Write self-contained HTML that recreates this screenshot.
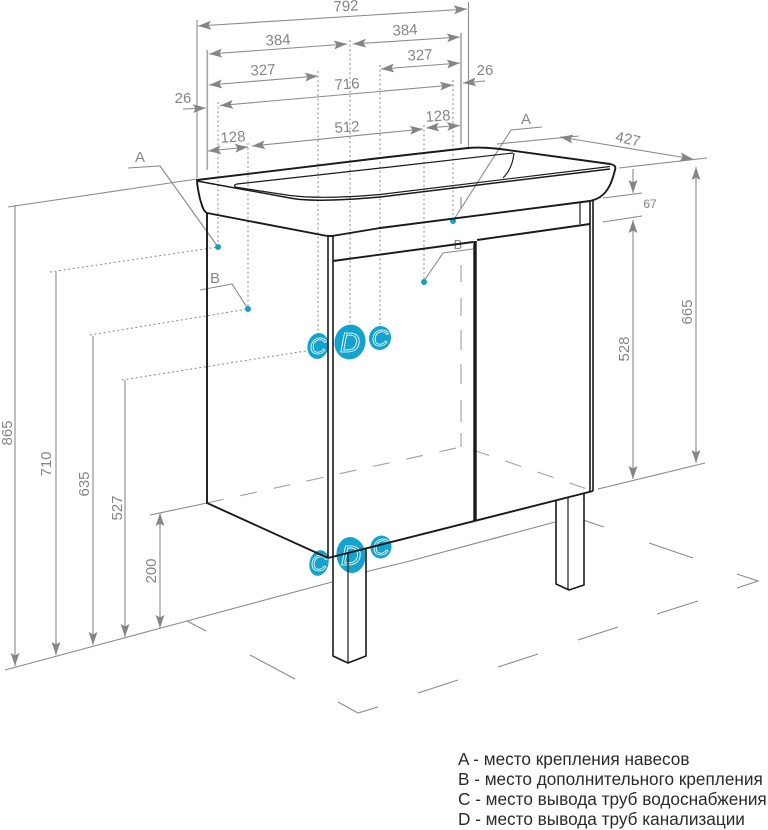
<!DOCTYPE html>
<html><head><meta charset="utf-8"><style>
html,body{margin:0;padding:0;background:#fff}
svg{display:block}
.d{stroke:#8a8a8a;stroke-width:1.1;fill:none}
.a{stroke:#8a8a8a;stroke-width:1.1;fill:none;marker-end:url(#m);}
.b{stroke:#8a8a8a;stroke-width:1.1;fill:none;marker-start:url(#ms);marker-end:url(#m);}
.dot{stroke:#8a8a8a;stroke-width:1;fill:none;stroke-dasharray:2 2.6}
.k{stroke:#1a1a1a;stroke-width:1.9;fill:none;stroke-linejoin:round}
.t{stroke:#1a1a1a;stroke-width:1.2;fill:none;stroke-linejoin:round}
.dash{stroke:#a0a0a0;stroke-width:1.1;fill:none;stroke-dasharray:17 17}
text{font-family:"Liberation Sans",sans-serif;fill:#858585;font-size:15px}
.l{fill:#2a2a2a;font-size:17.2px}
.w{fill:none;stroke:#fff;stroke-width:.8;font-style:italic}
</style></head><body>
<svg width="768" height="830" viewBox="0 0 768 830" xmlns="http://www.w3.org/2000/svg">
<defs>
<marker id="m" markerUnits="userSpaceOnUse" markerWidth="14" markerHeight="10" refX="13" refY="5" orient="auto"><path d="M0 .6L13 5L0 9.4L2.5 5Z" fill="#858585"/></marker>
<marker id="ms" markerUnits="userSpaceOnUse" markerWidth="14" markerHeight="10" refX="1" refY="5" orient="auto"><path d="M14 .6L1 5L14 9.4L11.5 5Z" fill="#858585"/></marker>
</defs>

<!-- extension lines -->
<path class="d" d="M197 20V178M468.5 2V148"/>
<path d="M207.3 50V170M461 33V144" stroke="#a5a5a5" stroke-width="1.6" fill="none"/>
<path class="dot" d="M218 102V247M248 143V309M318 71V335M350 40V325M380 65V325M424 125V282M453 80V222"/>
<path class="dot" d="M50 272L218 247M90 335L248 309M122 380L312 350"/>

<!-- top dimensions -->
<path class="b" d="M198 26L467 9"/>
<path class="b" d="M209 54L347 44"/>
<path class="b" d="M353 44L460 37"/>
<path class="b" d="M209 85L318 76"/>
<path class="b" d="M381 69L460 63"/>
<path class="b" d="M220 105.5L453 85"/>
<path class="b" d="M252 146L423 129"/>
<path class="b" d="M208 151L248 147"/>
<path class="b" d="M426 128L460 125.5"/>
<path class="a" d="M183 109L206 108"/>
<path class="a" d="M485 81L463 83"/>

<g>
<text x="346" y="11" text-anchor="middle" transform="rotate(-3 346 6)">792</text>
<text x="278" y="45" text-anchor="middle" transform="rotate(-3 278 40)">384</text>
<text x="405" y="35" text-anchor="middle" transform="rotate(-3 405 30)">384</text>
<text x="263" y="75" text-anchor="middle" transform="rotate(-3 263 70)">327</text>
<text x="420" y="60" text-anchor="middle" transform="rotate(-3 420 55)">327</text>
<text x="347" y="89" text-anchor="middle" transform="rotate(-4 347 84)">716</text>
<text x="347" y="132" text-anchor="middle" transform="rotate(-4 347 127)">512</text>
<text x="233" y="142" text-anchor="middle" transform="rotate(-4 233 137)">128</text>
<text x="438" y="121" text-anchor="middle" transform="rotate(-4 438 116)">128</text>
<text x="183" y="103" text-anchor="middle">26</text>
<text x="485" y="75" text-anchor="middle">26</text>
<text x="628" y="144" text-anchor="middle" transform="rotate(12 628 139)">427</text>
<text x="650" y="208" text-anchor="middle" style="font-size:12px">67</text>
<text transform="translate(12 433) rotate(-90)" text-anchor="middle">865</text>
<text transform="translate(51 464) rotate(-90)" text-anchor="middle">710</text>
<text transform="translate(89 484) rotate(-90)" text-anchor="middle">635</text>
<text transform="translate(122 508) rotate(-90)" text-anchor="middle">527</text>
<text transform="translate(156 571) rotate(-90)" text-anchor="middle">200</text>
<text transform="translate(692 312) rotate(-90)" text-anchor="middle">665</text>
<text transform="translate(629 349) rotate(-90)" text-anchor="middle">528</text>
<text x="140" y="162" text-anchor="middle">A</text>
<text x="215" y="283" text-anchor="middle">B</text>
<text x="526" y="124" text-anchor="middle">A</text>
<text x="458" y="249" text-anchor="middle" style="font-size:13px">B</text>
</g>

<!-- left vertical dims -->
<path class="a" d="M15 205V666"/>
<path class="a" d="M56 272V655"/>
<path class="a" d="M93 336V645"/>
<path class="a" d="M125 380V637"/>
<path class="b" d="M160 513V628"/>
<path class="d" d="M8 207L197 179"/>
<path class="d" d="M150 515L207 503"/>
<path class="d" d="M5 670L187 621L332 582M365 572L410 561L555 522"/>

<!-- right dims -->
<path class="b" d="M696 167V463"/>
<path class="b" d="M633 220V479"/>
<path class="a" d="M633 169V193"/>
<path class="d" d="M598 489L705 463"/>
<path class="d" d="M619 168L707 158"/>
<path class="d" d="M603 198L642 193M603 222L642 216"/>
<path class="d" d="M497 144L579 136"/>
<path class="b" d="M560 137L693 159"/>

<!-- leaders -->
<path class="d" d="M128 168L160 166L218 247"/>
<path class="d" d="M200 290L232 284L248 309"/>
<path class="d" d="M542 127L511 130L453 221"/>
<path class="d" d="M473 249L443 253L424 281"/>
<path class="d" d="M461 197V208"/>

<!-- hidden dashed -->
<path class="dash" d="M207 503L461 447"/>
<path stroke="#a0a0a0" stroke-width="1.1" fill="none" d="M461 265V282M461 298V316M461 330V350M461 364V384M461 400V422M461 433V447"/>
<path class="dash" d="M473 450L590 490"/>

<!-- floor marks -->
<path class="d" d="M187 621L206 631M250 655L295 679M338 702L358 713L378 707M418 693L458 680M498 667L538 654M578 640L618 627M657 614L698 601M583 520L604 527M649 543L693 558M737 574L758 581L737 588"/>

<!-- blobs behind -->
<g fill="#14a3cd">
<ellipse cx="318" cy="346" rx="10.5" ry="13" transform="rotate(12 318 346)"/>
<ellipse cx="350" cy="342" rx="15.5" ry="17.5" transform="rotate(12 350 342)"/>
<ellipse cx="380" cy="338" rx="11" ry="12" transform="rotate(12 380 338)"/>
<ellipse cx="319" cy="563" rx="9.5" ry="13" transform="rotate(14 319 563)"/>
<ellipse cx="351" cy="555" rx="14.5" ry="18" transform="rotate(-8 351 555)"/>
<ellipse cx="381" cy="547" rx="10.5" ry="11.5" transform="rotate(14 381 547)"/>
</g>
<g>
<text class="w" x="318" y="354" text-anchor="middle" style="font-size:23px">C</text>
<text class="w" x="350" y="352" text-anchor="middle" style="font-size:28px">D</text>
<text class="w" x="380" y="346" text-anchor="middle" style="font-size:23px">C</text>
<text class="w" x="319" y="571" text-anchor="middle" style="font-size:23px">C</text>
<text class="w" x="351" y="565" text-anchor="middle" style="font-size:28px">D</text>
<text class="w" x="381" y="555" text-anchor="middle" style="font-size:23px">C</text>
</g>
<g fill="#12a2c6">
<circle cx="218" cy="247" r="3"/><circle cx="248" cy="309" r="3"/><circle cx="424" cy="282" r="3"/><circle cx="453" cy="221" r="3"/>
</g>

<!-- sink -->
<path class="k" d="M197 180L380 158L468 148C480 147 490 148 500 149L610 164C615 165 616 167 615 170C612 182 608 192 600 197C597 199 594 200 590 201L380 228L332 236C329 236 326 236 322 235L207 213C203 211 202 205 200 199C198 190 197 185 197 180Z"/>
<path class="k" style="stroke-width:1.5" d="M197 181L290 198C305 201 335 201 380 197L610 169"/>
<path class="t" d="M237 184L390 167L513 153M237 184C233 185 234 187 238 187.5L290 195.5C310 198 340 198 380 194.5L610 166.5"/>
<path class="t" d="M514 153C513 163 510 171 503 178"/>

<!-- cabinet -->
<path class="k" d="M207 213V503L328 558"/>
<path class="k" d="M328 558L593 491"/>
<path class="t" d="M328 235V558M333 236V556" style="stroke-width:1.6"/>
<path class="t" d="M590 201V491M593 200V491" style="stroke-width:1.6"/>
<path class="t" d="M580 202V224"/>
<path class="k" d="M333 261L473 242M477 240L590 224"/>
<path d="M475 241V521" stroke="#1a1a1a" stroke-width="3.4" fill="none"/>

<!-- legs -->
<path class="k" style="stroke-width:1.6" d="M333 556V656L348 663L366 656V548"/>
<path class="t" d="M348 552V663"/>
<path class="k" style="stroke-width:1.6" d="M556 500V584L569 590L584 585V493"/>
<path class="t" d="M568 497V590"/>

<!-- legend -->
<text class="l" x="458" y="765">A - место крепления навесов</text>
<text class="l" x="458" y="785">B - место дополнительного крепления</text>
<text class="l" x="458" y="805">C - место вывода труб водоснабжения</text>
<text class="l" x="458" y="825">D - место вывода труб канализации</text>
</svg>
</body></html>
